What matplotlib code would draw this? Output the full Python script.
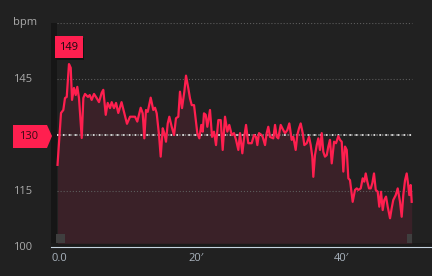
import matplotlib
matplotlib.use('Agg')
import matplotlib.pyplot as plt
import matplotlib.transforms as mtransforms
from matplotlib.patches import Polygon, Rectangle

# ---- data (minutes, bpm) ----
minutes = [0.83, 1.31, 1.63, 1.86, 2.10, 2.41, 2.65, 2.83, 3.10, 3.34, 3.56, 3.79, 4.17, 4.39, 4.62,
           5.03, 5.27, 5.54, 5.86, 6.23, 6.55, 6.92, 7.14, 7.48, 7.75, 8.07, 8.30, 8.62, 8.90, 9.21,
           9.66, 10.00, 10.41, 10.83, 11.52, 11.83, 12.30, 12.58, 12.80, 13.03, 13.27, 13.68, 14.04,
           14.28, 14.51, 14.83, 15.06, 15.34, 15.56, 15.79, 16.03, 16.25, 16.58, 16.90, 17.17, 17.49,
           17.72, 18.00, 18.32, 18.55, 18.87, 19.10, 19.34, 19.66, 20.11, 20.39, 20.66, 20.86, 21.03,
           21.27, 21.49, 21.86, 22.14, 22.41, 22.69, 23.01, 23.34, 23.61, 23.93, 24.25, 24.52, 24.86,
           25.17, 25.45, 25.77, 26.00, 26.32, 26.55, 26.83, 27.14, 27.61, 27.93, 28.21, 28.39, 28.62,
           28.97, 29.13, 29.45, 29.68, 29.90, 30.14, 30.59, 30.83, 31.06, 31.28, 31.61, 31.97, 32.21,
           32.52, 32.80, 33.13, 33.35, 33.68, 33.90, 34.14, 34.37, 34.65, 34.87, 35.20, 35.52, 35.75,
           35.97, 36.11, 36.34, 36.58, 36.80, 37.03, 37.27, 37.49, 37.72, 37.96, 38.18, 38.41, 38.65,
           38.97, 39.24, 39.56, 39.79, 40.03, 40.25, 40.48, 40.72, 40.94, 41.17, 41.54, 41.86, 42.10,
           42.32, 42.65, 42.92, 43.14, 43.34, 43.56, 43.79, 44.03, 44.25, 44.48, 44.72, 44.99, 45.21,
           45.45, 45.68, 45.90, 46.14, 46.37, 46.69, 46.92, 47.14, 47.48, 47.75, 48.07, 48.30, 48.52,
           48.76, 48.99, 49.17, 49.35, 49.54, 49.68]
bpm = [122.0, 135.9, 136.7, 139.9, 140.2, 149.0, 148.0, 139.4, 142.6, 140.7, 142.9, 139.9, 129.2, 139.9, 141.0,
       140.2, 140.7, 139.4, 141.0, 139.9, 138.8, 141.3, 142.1, 135.4, 138.6, 137.2, 138.8, 137.2, 138.6, 135.9,
       138.8, 136.2, 133.0, 134.9, 134.9, 133.6, 137.3, 135.8, 129.1, 136.7, 136.2, 140.0, 136.7,
       137.3, 135.8, 130.0, 124.2, 131.8, 130.5, 128.2, 133.1, 134.9, 132.2, 130.0, 134.5, 134.9,
       141.6, 137.2, 141.6, 145.9, 142.5, 139.8, 138.0, 138.0, 130.5, 129.1, 132.7, 130.9, 135.8,
       135.4, 132.2, 136.7, 129.5, 130.9, 127.3, 134.0, 134.0, 126.0, 134.9, 130.9, 132.7, 130.0,
       130.5, 128.7, 126.0, 130.5, 125.1, 129.1, 132.7, 127.8, 127.8, 130.0, 129.5, 127.3, 130.5,
       130.0, 129.5, 127.3, 130.5, 132.2, 129.5, 129.1, 132.7, 129.5, 129.1, 132.7, 131.3, 130.5,
       131.3, 133.1, 128.7, 129.5, 126.0, 130.0, 131.8, 133.1, 130.5, 127.3, 127.8, 129.5, 127.3,
       124.2, 118.8, 124.6, 127.3, 129.1, 126.0, 130.5, 125.5, 124.2, 124.6, 126.9, 128.7, 122.4,
       128.2, 127.8, 129.7, 128.7, 128.2, 120.2, 126.9, 126.0, 118.4, 117.9, 112.1, 115.3, 115.7,
       115.3, 115.7, 118.4, 117.5, 119.7, 117.5, 115.7, 115.7, 117.1, 119.7, 115.3, 114.8, 110.8,
       114.8, 109.9, 112.6, 113.5, 110.8, 107.7, 110.4, 112.6, 113.9, 115.7, 112.1, 108.1, 113.9,
       117.9, 119.7, 117.1, 113.9, 116.6, 112.1]
avg_bpm = 130
grid_values = [115, 145, 160]
y_tick_labels = {160: 'bpm', 145: '145', 115: '115', 100: '100'}
x_ticks = [0, 20, 40]
x_tick_labels = ['0.0', "20\u2032", "40\u2032"]

# ---- style ----
plt.rcParams['font.family'] = ['Open Sans', 'DejaVu Sans']
plt.rcParams['lines.scale_dashes'] = False

BG = '#212121'
PINK = '#ff1f4f'
FILL = '#3a2128'

W, H = 432, 276
fig = plt.figure(figsize=(W / 100, H / 100), dpi=100, facecolor=BG)
ax = fig.add_axes([51 / W, 29 / H, (W - 51) / W, (253 - 29) / H])
ax.set_facecolor(BG)
ax.set_xlim(-0.07, 52.48)
ax.set_ylim(100, 160)
for s in ['top', 'right', 'left']:
    ax.spines[s].set_visible(False)
ax.spines['bottom'].set_color('#c5d3e0')
ax.spines['bottom'].set_linewidth(0.8)
ax.set_yticks([])
ax.set_xticks(x_ticks)
ax.set_xticklabels(x_tick_labels)
ax.tick_params(axis='x', length=0, pad=4, labelsize=8, labelcolor='#a9b3bd')
ax.get_xticklabels()[0].set_horizontalalignment('left')

t0, t1 = minutes[0], minutes[-1]

# left dark strip and bottom dark band
ax.axvspan(-0.07, t0 - 0.05, color='#161616', lw=0, zorder=1)
ax.axhspan(100, 101, color='#1a1a1a', lw=0, zorder=1)

# area fill
ax.fill_between(minutes, bpm, 101, color=FILL, lw=0, zorder=2)

# grid lines
ax.hlines(grid_values, t0 - 0.05, t1, colors='#5c5c5c', lw=0.8,
          linestyles=[(0, (0.8, 1.4))], zorder=3)
# average line
ax.hlines([avg_bpm], t0 - 0.05, t1, colors='#7a7a7a', lw=1.2,
          linestyles=[(0, (1.0, 1.0))], zorder=3)
ax.hlines([avg_bpm], t0 - 0.05, t1, colors='#e8e8e8', lw=1.2,
          linestyles=[(0, (1.2, 3.1))], zorder=3)

# heart-rate line
ax.plot(minutes, bpm, color=PINK, lw=1.6, zorder=5, solid_joinstyle='round')

# slider handles
ax.add_patch(Rectangle((t0 - 0.2, 101.1), 1.25, 2.4, color='#3f3f3f', lw=0, zorder=4))
ax.add_patch(Rectangle((t1 - 0.7, 101.1), 0.7, 2.4, color='#3f3f3f', lw=0, zorder=4))

# y labels
blend = mtransforms.blended_transform_factory(fig.transFigure, ax.transData)
for v, lab in y_tick_labels.items():
    ax.text(13 / W, v, lab, transform=blend, ha='left', va='center',
            fontsize=8, color='#aaaaaa', clip_on=False)

# average tag
ident = mtransforms.IdentityTransform()
yd = ax.transData.transform((0, avg_bpm))[1]
tag = Polygon([(13, yd + 10), (47, yd + 10), (52, yd - 1), (47, yd - 13), (13, yd - 13)],
              closed=True, facecolor=PINK, edgecolor='none', transform=ident)
fig.add_artist(tag)
fig.text(29, yd - 1.5, str(avg_bpm), transform=ident, ha='center', va='center',
         fontsize=8, color='#3a0a14')

# max label box
imax = bpm.index(max(bpm))
px, py = ax.transData.transform((minutes[imax], bpm[imax]))
bw, bh = 28, 22
bottom = py + 6
fig.add_artist(Rectangle((px - bw / 2 + 1.5, bottom - 1.5), bw, bh, facecolor='#121212',
                         edgecolor='none', transform=ident))
fig.add_artist(Rectangle((px - bw / 2, bottom), bw, bh, facecolor=PINK,
                         edgecolor='none', transform=ident))
fig.text(px, bottom + bh / 2, f'{round(max(bpm))}', transform=ident, ha='center', va='center',
         fontsize=8, color='#1a0a0e')

fig.savefig('out.png', dpi=100, facecolor=BG)
